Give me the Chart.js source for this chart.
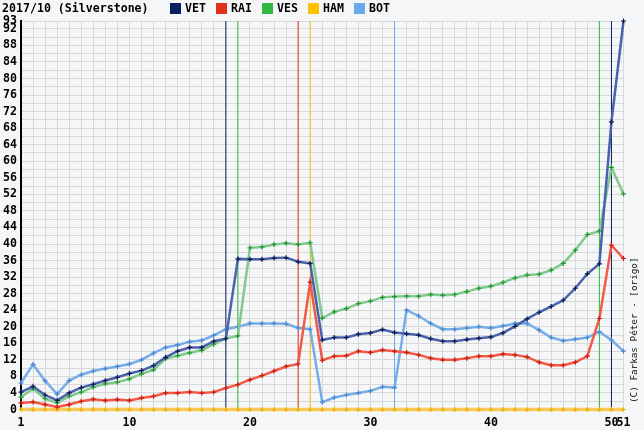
<!DOCTYPE html>
<html>
<head>
<meta charset="utf-8">
<script src="https://cdn.jsdelivr.net/npm/chart.js@4.4.1/dist/chart.umd.min.js"></script>
<style>
  body { margin: 0; background: #f5f6f8; }
  #wrap { position: relative; width: 644px; height: 430px; overflow: hidden; }
  canvas { position: absolute; left: 0; top: 0; }
  .t { position: absolute; top: 2px; font: bold 11.6px "DejaVu Sans Mono", monospace; color: #000; white-space: pre; line-height: 13px; }
  .sq { position: absolute; top: 3px; width: 11px; height: 11px; }
  #copy { position: absolute; left: 628px; top: 403px; font: 9.3px "DejaVu Sans Mono", monospace; color: #111;
          white-space: pre; line-height: 12px; transform: rotate(-90deg); transform-origin: left top; }
</style>
</head>
<body>
<div id="wrap">
  <canvas id="myChart" width="644" height="430"></canvas>
  <div class="t" style="left:2px">2017/10 (Silverstone)</div>
  <div id="legend"></div>
  <div id="copy">(C) Farkas Péter - [origo]</div>
</div>
<script>
// gap to leader (s) per lap, laps 1..51
const laps = Array.from({ length: 51 }, (_, i) => i + 1);
const xTickLabels = [1, 10, 20, 30, 40, 50, 51];
const yMax = 93.9;

const VET = [4.2, 5.6, 3.5, 2.2, 4.0, 5.3, 6.1, 7.0, 7.8, 8.7,
  9.4, 10.6, 12.6, 14.1, 15.0, 15.0, 16.5, 17.1, 36.4, 36.3,
  36.3, 36.6, 36.7, 35.7, 35.3, 16.8, 17.4, 17.4, 18.2, 18.5,
  19.3, 18.6, 18.3, 18.0, 17.1, 16.5, 16.5, 16.9, 17.2, 17.5,
  18.5, 20.1, 21.9, 23.5, 24.9, 26.4, 29.3, 32.8, 35.2, 69.5, 93.9];
const RAI = [1.6, 1.8, 1.2, 0.6, 1.2, 2.0, 2.5, 2.2, 2.4, 2.2,
  2.8, 3.2, 4.0, 4.0, 4.2, 4.0, 4.2, 5.2, 6.0, 7.2,
  8.2, 9.3, 10.4, 11.0, 30.8, 11.9, 12.9, 13.0, 14.1, 13.8,
  14.4, 14.1, 13.8, 13.2, 12.4, 12.0, 12.0, 12.4, 12.9, 12.9,
  13.4, 13.2, 12.7, 11.4, 10.7, 10.7, 11.4, 12.9, 22.0, 39.7, 36.5];
const VES = [3.0, 5.0, 2.6, 1.6, 3.2, 4.2, 5.4, 6.2, 6.6, 7.4,
  8.6, 9.6, 12.3, 13.0, 13.7, 14.3, 15.8, 17.2, 17.8, 39.1,
  39.3, 39.9, 40.2, 39.9, 40.3, 22.1, 23.6, 24.4, 25.6, 26.2,
  27.1, 27.3, 27.4, 27.4, 27.8, 27.6, 27.8, 28.5, 29.3, 29.8,
  30.7, 31.8, 32.5, 32.7, 33.7, 35.3, 38.5, 42.3, 43.1, 58.5, 52.1];
const HAM = [0, 0, 0, 0, 0, 0, 0, 0, 0, 0,
  0, 0, 0, 0, 0, 0, 0, 0, 0, 0,
  0, 0, 0, 0, 0, 0, 0, 0, 0, 0,
  0, 0, 0, 0, 0, 0, 0, 0, 0, 0,
  0, 0, 0, 0, 0, 0, 0, 0, 0, 0, 0];
const BOT = [6.4, 10.9, 6.9, 3.7, 7.0, 8.4, 9.3, 9.9, 10.4, 11.0,
  12.0, 13.6, 15.0, 15.6, 16.4, 16.7, 17.9, 19.4, 20.0, 20.8,
  20.8, 20.8, 20.7, 19.7, 19.4, 1.8, 2.9, 3.5, 4.0, 4.5,
  5.5, 5.3, 24.0, 22.6, 20.8, 19.4, 19.4, 19.7, 20.0, 19.7,
  20.2, 20.8, 20.8, 19.2, 17.4, 16.6, 17.0, 17.4, 18.8, 16.8, 14.1];

// pit stop laps
const pitVET = [18, 50];
const pitRAI = [24];
const pitVES = [19, 49];
const pitHAM = [25];
const pitBOT = [32];

const drivers = [
  { name: 'VET', data: VET, pits: pitVET, color: '#0b1f5f', line: '#4a62aa', mark: '#0b1a50' },
  { name: 'RAI', data: RAI, pits: pitRAI, color: '#e3301c', line: '#f25a48', mark: '#c81e10' },
  { name: 'VES', data: VES, pits: pitVES, color: '#2fb942', line: '#82c98e', mark: '#1c9a2c' },
  { name: 'HAM', data: HAM, pits: pitHAM, color: '#fcc100', line: '#f7cc5a', mark: '#f0b000' },
  { name: 'BOT', data: BOT, pits: pitBOT, color: '#6aa9ea', line: '#78ade8', mark: '#4a88d0' }
];

// legend row
const legend = document.getElementById('legend');
drivers.forEach((d, i) => {
  const x = 170 + i * 46;
  legend.insertAdjacentHTML('beforeend',
    `<div class="sq" style="left:${x}px;background:${d.color}"></div>` +
    `<div class="t" style="left:${x + 15}px">${d.name}</div>`);
});

const datasets = [];
drivers.forEach(d => {
  datasets.push({
    data: d.data.map((v, i) => ({ x: laps[i], y: v })),
    borderColor: d.line,
    borderWidth: d.name === 'HAM' ? 3.5 : 2.5,
    pointStyle: 'cross',
    pointRadius: 2.5,
    pointBorderWidth: 1.2,
    pointBorderColor: d.mark,
    pointBackgroundColor: d.mark,
    tension: 0,
    clip: false,
    order: 1
  });
  d.pits.forEach(p => {
    datasets.push({
      data: [{ x: p, y: 0 }, { x: p, y: yMax }],
      borderColor: d.color,
      borderWidth: 1,
      pointRadius: 0,
      order: 5
    });
  });
});

const tickFont = { family: 'DejaVu Sans Mono', weight: 'bold', size: 11.6 };

const myChart = new Chart(document.getElementById('myChart'), {
  type: 'line',
  data: { datasets: datasets },
  options: {
    responsive: false,
    animation: false,
    devicePixelRatio: 1,
    layout: { padding: { top: 21, right: 20.5, left: 0, bottom: 0 } },
    plugins: { legend: { display: false }, tooltip: { enabled: false } },
    scales: {
      x: {
        type: 'linear', min: 1, max: 51,
        afterBuildTicks: s => { s.ticks = laps.map(v => ({ value: v })); },
        afterFit: s => { s.height = 20.5; },
        grid: { color: '#d8d8d8', drawTicks: false },
        border: { display: false },
        ticks: {
          autoSkip: false, maxRotation: 0, padding: 7, color: '#000', font: tickFont,
          callback: v => xTickLabels.includes(v) ? String(v) : ''
        }
      },
      y: {
        min: 0, max: yMax,
        afterBuildTicks: s => {
          const t = [];
          for (let v = 0; v <= 92; v += 2) t.push({ value: v });
          t.push({ value: yMax });
          s.ticks = t;
        },
        afterFit: s => { s.width = 21; },
        grid: { color: '#d8d8d8', drawTicks: false },
        border: { color: '#000', width: 2 },
        ticks: {
          autoSkip: false, padding: 4, color: '#000', font: tickFont,
          callback: v => v === yMax ? String(Math.floor(v)) : (v % 4 === 0 ? String(v) : '')
        }
      }
    }
  }
});
</script>
</body>
</html>
